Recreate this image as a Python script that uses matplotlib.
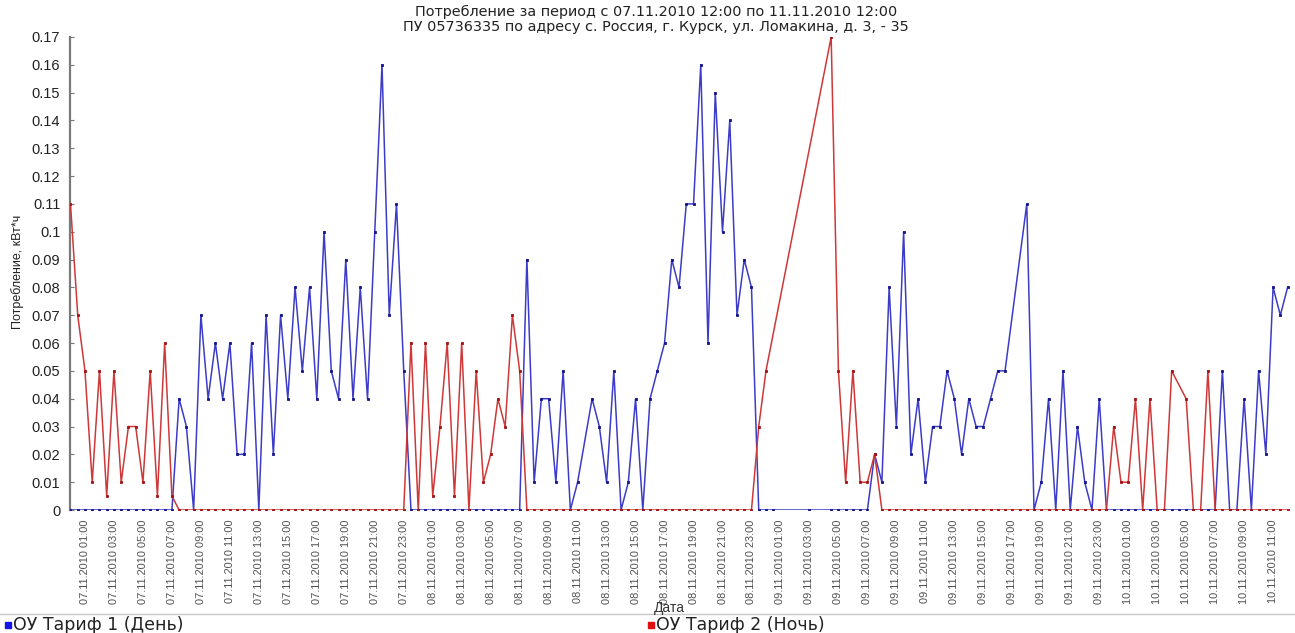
import numpy as np
import pandas as pd
import matplotlib
matplotlib.use("Agg")
import matplotlib.pyplot as plt
from matplotlib.patches import Rectangle
from matplotlib.lines import Line2D

plt.rcParams['font.family'] = ['Liberation Sans', 'DejaVu Sans']

# Half-hourly readings, 07.11.2010 00:00 ... 10.11.2010 12:00 (None = no reading)
period_start = "2010-11-07 00:00"
n_slots = 169

tariff_day = (
    [0] * 15
    + [0.04, 0.03, 0, 0.07, 0.04, 0.06, 0.04, 0.06, 0.02, 0.02, 0.06, 0, 0.07, 0.02,
       0.07, 0.04, 0.08, 0.05, 0.08, 0.04, 0.10, 0.05, 0.04, 0.09, 0.04, 0.08, 0.04,
       0.10, 0.16, 0.07, 0.11, 0.05]
    + [0] * 16
    + [0.09, 0.01, 0.04, 0.04, 0.01, 0.05, 0, 0.01, None, 0.04, 0.03, 0.01, 0.05, 0,
       0.01, 0.04, 0, 0.04, 0.05, 0.06, 0.09, 0.08, 0.11, 0.11, 0.16, 0.06, 0.15, 0.10,
       0.14, 0.07, 0.09, 0.08, 0, 0]
    + [0, None, None, None, None, 0, None, None]
    + [0, 0, 0, 0, 0, 0, 0.02, 0.01, 0.08, 0.03, 0.10, 0.02, 0.04, 0.01, 0.03, 0.03,
       0.05, 0.04, 0.02, 0.04, 0.03, 0.03, 0.04, 0.05, 0.05, None, None, 0.11, 0, 0.01,
       0.04, 0, 0.05, 0, 0.03, 0.01, 0, 0.04, 0]
    + [0] * 15
    + [0.05, 0, 0, 0.04, 0, 0.05, 0.02, 0.08, 0.07, 0.08]
)

tariff_night = (
    [0.11, 0.07, 0.05, 0.01, 0.05, 0.005, 0.05, 0.01, 0.03, 0.03, 0.01, 0.05, 0.005,
     0.06, 0.005]
    + [0] * 32
    + [0.06, 0, 0.06, 0.005, 0.03, 0.06, 0.005, 0.06, 0, 0.05, 0.01, 0.02, 0.04, 0.03,
       0.07, 0.05]
    + [0] * 32
    + [0.03, 0.05]
    + [None] * 8
    + [0.17, 0.05, 0.01, 0.05, 0.01, 0.01, 0.02]
    + [0] * 32
    + [0.03, 0.01, 0.01, 0.04, 0, 0.04, 0, 0, 0.05, None, 0.04, 0, 0, 0.05, 0]
    + [0] * 10
)

series_names = ["ОУ Тариф 1 (День)", "ОУ Тариф 2 (Ночь)"]
title_lines = [
    "Потребление за период с 07.11.2010 12:00 по 11.11.2010 12:00",
    "ПУ 05736335 по адресу с. Россия, г. Курск, ул. Ломакина, д. 3, - 35",
]
y_label = "Потребление, кВт*ч"
x_label = "Дата"
y_ticks = [round(0.01 * i, 2) for i in range(18)]
tick_first = "2010-11-07 01:00"
tick_count = 42

times = pd.date_range(period_start, periods=n_slots, freq="30min")
tick_times = pd.date_range(tick_first, periods=tick_count, freq="2h")
tick_labels = [t.strftime("%d.%m.%Y %H:%M") for t in tick_times]

W, H = 1295, 633
fig = plt.figure(figsize=(W / 100, H / 100), dpi=100)
ax = fig.add_axes([70 / W, 123 / H, 1220 / W, 473 / H])

styles = [
    dict(line="#3c3cc8", mark="#14148c", key="#1414e6"),
    dict(line="#cf3838", mark="#a41212", key="#e01010"),
]
for vals, st in zip([tariff_day, tariff_night], styles):
    v = np.array([np.nan if x is None else x for x in vals], dtype=float)
    ok = ~np.isnan(v)
    ax.plot(times[ok], v[ok], color=st["line"], lw=1.1, marker="s", ms=1.9,
            mew=0.6, mfc=st["mark"], mec=st["mark"], zorder=3)

ax.set_ylim(0, 0.17)
ax.set_xlim(times[0] - pd.Timedelta(minutes=2), times[-1] + pd.Timedelta(minutes=10))
ax.set_yticks(y_ticks)
ax.set_yticklabels([f"{t:g}" for t in y_ticks], fontsize=10.5, color="#222222")
ax.set_xticks(tick_times)
ax.set_xticklabels(tick_labels, rotation=90, fontsize=7.9, color="#505050",
                   family=["Liberation Sans Narrow", "Liberation Sans"])
ax.tick_params(axis="x", length=0, pad=7)
ax.tick_params(axis="y", direction="in", length=3, color="#777777", pad=7)
for s in ["top", "right", "bottom"]:
    ax.spines[s].set_visible(False)
ax.spines["left"].set_color("#7a7a7a")
ax.spines["left"].set_linewidth(1.6)

for line_text, ty in zip(title_lines, [12, 27]):
    fig.text(656 / W, 1 - ty / H, line_text, ha="center", va="center", fontsize=10.4,
             color="#222222", family=["DejaVu Sans"])
fig.text(18 / W, 1 - 272 / H, y_label, rotation=90, ha="center", va="center",
         fontsize=9, color="#222222", family=["Liberation Sans Narrow", "Liberation Sans"])
fig.text(669 / W, 1 - 608 / H, x_label, ha="center", va="center", fontsize=10,
         color="#333333")

# legend strip
fig.add_artist(Line2D([0, 1], [1 - 614 / H, 1 - 614 / H], color="#c8c8c8", lw=1.0))
for name, st, lx in zip(series_names, styles, [5, 648]):
    fig.add_artist(Rectangle((lx / W, 1 - 628 / H), 6 / W, 6 / H, color=st["key"]))
    fig.text((lx + 8) / W, 1 - 625 / H, name, ha="left", va="center", fontsize=12.5,
             color="#222222", family=["DejaVu Sans"])

fig.savefig("out.png", dpi=100)
